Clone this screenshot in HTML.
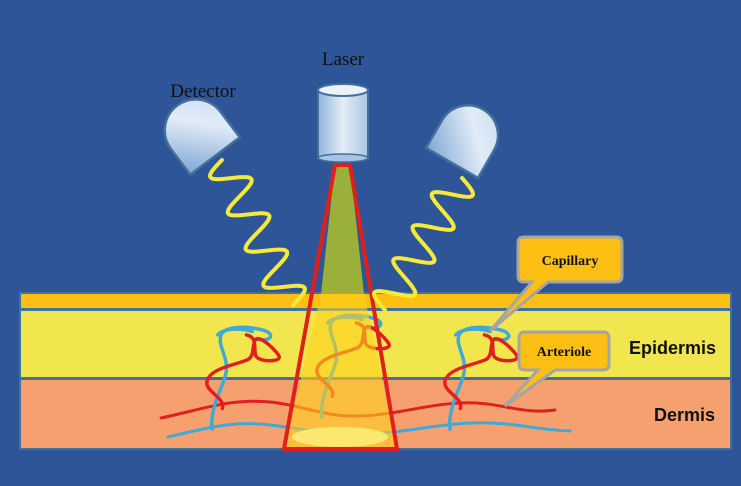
<!DOCTYPE html>
<html><head><meta charset="utf-8"><style>
html,body{margin:0;padding:0;background:#2e5597}
svg{display:block}
</style></head><body>
<svg id="s" width="741" height="486" viewBox="0 0 741 486" xmlns="http://www.w3.org/2000/svg">
<defs>
<linearGradient id="met" x1="0" y1="0" x2="1" y2="0">
<stop offset="0" stop-color="#8fb4dc"/><stop offset="0.5" stop-color="#e4eef8"/><stop offset="1" stop-color="#a9c4e2"/>
</linearGradient>
<linearGradient id="det" x1="0" y1="1" x2="1" y2="0">
<stop offset="0" stop-color="#7fa6d4"/><stop offset="0.6" stop-color="#e2ecf7"/><stop offset="1" stop-color="#c9dbef"/>
</linearGradient>
<g id="loop" fill="none" stroke-width="3" stroke-linecap="round">
<path d="M0,88 C-2,70 8,55 12,40 C15,25 4,15 8,6 C12,-2 30,-2 45,2 C55,5 52,12 40,10" stroke="#3fa9d8"/>
<path d="M5,6 C10,0 25,0 35,3" stroke="#3fa9d8"/>
<path d="M9,70 C12,60 -8,55 -4,45 C0,35 20,32 30,28 C38,25 34,15 38,10 C42,6 56,20 58,24 C62,30 40,30 38,24 C36,18 40,8 30,6" stroke="#e02020"/>
</g>
</defs>
<rect width="741" height="486" fill="#2e5597"/>
<rect x="20" y="293" width="711" height="16" fill="#fdbf14" stroke="#41719c" stroke-width="2"/>
<rect x="20" y="310" width="711" height="68" fill="#f2e64e" stroke="#41719c" stroke-width="2"/>
<rect x="20" y="379" width="711" height="70" fill="#f6a070" stroke="#41719c" stroke-width="2"/>
<g fill="none" stroke-width="3" stroke-linecap="round">
<path d="M161,418 C200,410 230,398 270,402 C300,405 320,415 350,416 C390,417 420,405 460,403 C500,401 520,415 555,410" stroke="#e02020"/>
<path d="M168,437 C200,430 230,420 270,425 C300,428 320,434 355,434 C400,434 430,425 470,423 C510,421 535,430 570,431" stroke="#3fa9d8"/>
</g>
<use href="#loop" transform="translate(212,328) scale(1.15)"/>
<use href="#loop" transform="translate(322,316) scale(1.15)"/>
<use href="#loop" transform="translate(450,328) scale(1.15)"/>
<polygon points="335,165 350,165 364,294 321,294" fill="#9ab03a"/>
<polygon points="321,294 364,294 397,449 284,449" fill="#ffd21e" fill-opacity="0.6"/>
<ellipse cx="340" cy="437" rx="48" ry="10" fill="#fbe870"/>
<polygon points="335,165 350,165 397,449 284,449" fill="none" stroke="#e0201a" stroke-width="4"/>
<path id="w1" fill="none" stroke="#f5e93a" stroke-width="4" stroke-linecap="round"/>
<path id="w2" fill="none" stroke="#f5e93a" stroke-width="4" stroke-linecap="round"/>
<rect x="318" y="90" width="50" height="68" fill="url(#met)" stroke="#41719c" stroke-width="2"/>
<ellipse cx="343" cy="158" rx="25" ry="4" fill="#a9c4e2" stroke="#41719c" stroke-width="1.5"/>
<ellipse cx="343" cy="90" rx="25" ry="6" fill="#eaf2fa" stroke="#41719c" stroke-width="2"/>
<g transform="translate(215,156) rotate(-37)">
<path d="M-31,0 L-31,-32 A31,31 0 0 1 31,-32 L31,0 Z" fill="url(#det)" stroke="#41719c" stroke-width="2.5"/>
</g>
<g transform="translate(452,163) rotate(30)">
<path d="M-30,0 L-30,-32 A30,30 0 0 1 30,-32 L30,0 Z" fill="url(#det)" stroke="#41719c" stroke-width="2.5"/>
</g>
<path d="M524,237 L616,237 Q622,237 622,243 L622,276 Q622,282 616,282 L548,282 L490,331 L532,282 L524,282 Q518,282 518,276 L518,243 Q518,237 524,237 Z" fill="#fdbf14" stroke="#a5a5a5" stroke-width="3"/>
<path d="M525,332 L603,332 Q609,332 609,338 L609,364 Q609,370 603,370 L555,370 L505,406 L538,370 L525,370 Q519,370 519,364 L519,338 Q519,332 525,332 Z" fill="#fdbf14" stroke="#a5a5a5" stroke-width="3"/>
<g font-family="Liberation Serif, serif" fill="#111">
<text x="570" y="265" font-size="14" font-weight="bold" text-anchor="middle">Capillary</text>
<text x="564" y="356" font-size="14" font-weight="bold" text-anchor="middle">Arteriole</text>
<text x="343" y="65" font-size="19" text-anchor="middle">Laser</text>
<text x="203" y="97" font-size="19" text-anchor="middle">Detector</text>
</g>
<g font-family="Liberation Sans, sans-serif" font-weight="bold" font-size="18" fill="#111">
<text x="629" y="354">Epidermis</text>
<text x="654" y="421">Dermis</text>
</g>
</svg>
<script>
function wave(id,ax,ay,bx,by,per,amp,ph){
var dx=bx-ax,dy=by-ay,L=Math.hypot(dx,dy),ux=dx/L,uy=dy/L,nx=-uy,ny=ux,d="";
for(var i=0;i<=200;i++){var t=i/200,o=amp*Math.sin(t*per*2*Math.PI+ph);
var x=ax+dx*t+nx*o,y=ay+dy*t+ny*o;d+=(i?"L":"M")+x.toFixed(1)+","+y.toFixed(1);}
document.getElementById(id).setAttribute("d",d);}
wave("w1",222,160,293,305,4,18,0);
wave("w2",462,178,385,310,4,18,Math.PI);
</script>
</body></html>
